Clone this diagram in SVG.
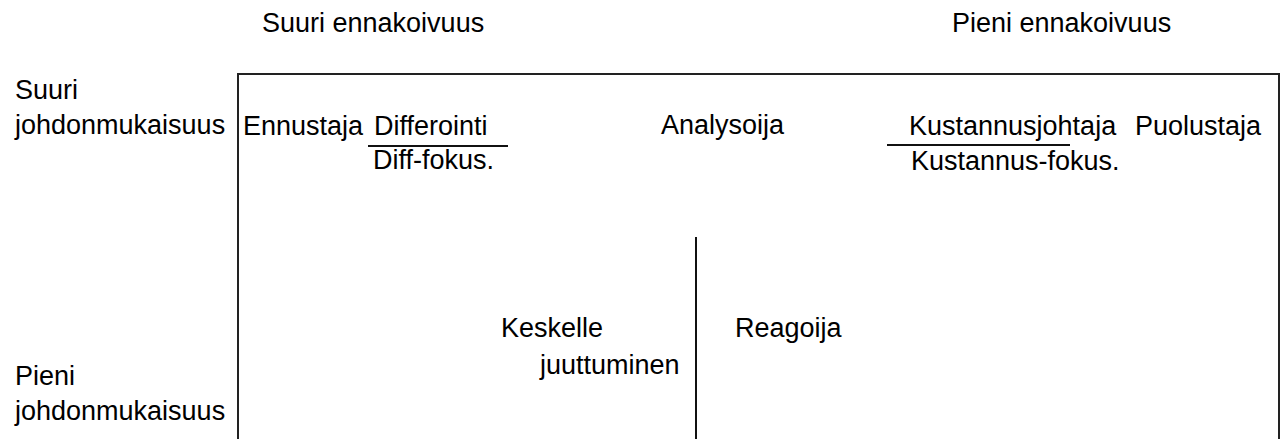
<svg xmlns="http://www.w3.org/2000/svg" width="1284" height="439" viewBox="0 0 1284 439">
  <style>
    text { font-family: "Liberation Sans", Arial, sans-serif; font-size: 27px; fill: #000; }
    .frame { fill: none; stroke: #222; stroke-width: 2; }
    .rule { stroke: #111; stroke-width: 2; fill: none; }
  </style>
  <rect width="1284" height="439" fill="#fff"/>

  <!-- axis headings -->
  <g id="axis-top">
    <text x="262" y="32">Suuri ennakoivuus</text>
    <text x="952" y="32">Pieni ennakoivuus</text>
  </g>
  <g id="axis-left">
    <text x="15" y="99">Suuri</text>
    <text x="15" y="134">johdonmukaisuus</text>
    <text x="15" y="385">Pieni</text>
    <text x="15" y="420">johdonmukaisuus</text>
  </g>

  <!-- framing box -->
  <g id="frame">
    <rect class="frame" x="238" y="74" width="1041" height="380"/>
  </g>

  <!-- strategy labels -->
  <g id="ennustaja"><text x="243" y="135">Ennustaja</text></g>
  <g id="differointi">
    <text x="374" y="135">Differointi</text>
    <text x="373" y="169">Diff-fokus.</text>
  </g>
  <g id="analysoija"><text x="661" y="134">Analysoija</text></g>
  <g id="kustannusjohtaja">
    <text x="909" y="135">Kustannusjohtaja</text>
    <text x="911" y="170">Kustannus-fokus.</text>
  </g>
  <g id="puolustaja"><text x="1135" y="135">Puolustaja</text></g>
  <g id="keskelle">
    <text x="501" y="337">Keskelle</text>
    <text x="540" y="374">juuttuminen</text>
  </g>
  <g id="reagoija"><text x="735" y="337">Reagoija</text></g>

  <!-- dividing lines -->
  <g id="connectors">
    <line class="rule" x1="368" y1="146" x2="508" y2="146"/>
    <line class="rule" x1="887" y1="145" x2="1070" y2="145"/>
    <line class="rule" x1="696" y1="237" x2="696" y2="441"/>
  </g>
</svg>
